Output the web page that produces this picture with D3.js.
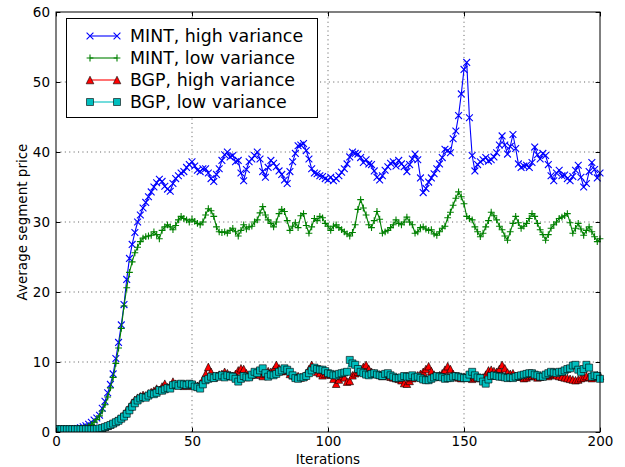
<!DOCTYPE html>
<html><head><meta charset="utf-8">
<script src="https://cdn.jsdelivr.net/npm/d3@7"></script>
<style>body{margin:0;background:#fff;} svg text{font-family:"DejaVu Sans",sans-serif;}</style>
</head><body>
<svg id="chart" width="625" height="467"></svg>
<script>
const seriesNames = ["MINT, high variance","MINT, low variance","BGP, high variance","BGP, low variance"];
const xTicks = [0,50,100,150,200];
const yTicks = [0,10,20,30,40,50,60];

const mintHigh = [
0.2,0.2,0.2,0.25,0.3,0.3,0.35,0.4,0.5,0.6,
0.75,0.9,1.1,1.4,1.7,2.0,2.4,3.4,4.4,5.6,
6.8,8.3,10.5,12.8,15.3,18.2,21.8,24.8,26.8,28.5,
30.0,31.0,32.0,32.8,33.6,34.3,35.0,35.6,36.1,35.8,
35.1,34.7,34.4,35.5,36.2,36.6,37.0,37.2,37.8,38.2,
38.6,38.0,37.4,37.2,37.6,37.6,37.0,36.2,35.8,36.8,
37.6,38.8,39.6,40.0,39.3,39.5,38.6,38.8,37.0,35.9,
37.5,38.6,39.0,39.5,40.0,39.0,37.2,36.4,37.8,38.8,
38.4,37.9,37.3,36.8,36.0,35.5,37.2,38.6,39.8,40.9,
41.0,41.2,40.2,39.0,37.6,37.0,36.9,36.6,36.5,36.2,
36.0,36.4,35.9,36.2,36.6,37.1,37.6,38.3,39.3,40.0,
39.8,39.7,39.2,38.5,38.9,38.3,38.2,37.3,36.4,36.0,
36.6,37.4,37.9,38.4,38.6,38.0,38.8,38.3,37.9,37.2,
38.2,39.0,39.7,38.9,36.3,34.2,34.8,35.7,36.3,36.9,
37.6,38.3,39.2,40.4,40.2,39.9,41.9,43.0,45.2,48.3,
51.8,52.8,44.9,39.5,37.3,38.2,38.6,38.9,39.2,38.7,
38.9,39.3,39.9,41.0,42.3,41.0,39.7,40.8,42.5,40.5,
38.3,37.8,38.0,38.1,37.8,38.5,40.7,39.6,39.0,39.8,
39.5,38.2,36.6,35.9,37.0,37.4,36.6,36.7,36.2,35.9,
36.5,37.4,38.1,36.4,35.0,35.5,37.2,38.5,37.5,36.3,
37.0];

const mintLow = [
0.2,0.2,0.2,0.2,0.25,0.3,0.3,0.35,0.4,0.45,
0.55,0.7,0.85,1.05,1.4,1.8,2.3,3.0,3.9,5.0,
6.3,7.8,9.8,12.0,14.8,18.0,20.6,22.8,24.3,25.6,
26.4,27.2,27.7,27.9,28.0,28.1,28.6,28.2,27.6,28.8,
29.3,29.6,29.3,28.9,29.5,30.3,30.8,30.5,30.3,30.0,
30.4,30.1,29.8,29.6,30.0,31.0,31.9,31.6,30.8,29.3,
28.6,28.5,28.6,28.4,28.8,29.1,28.6,28.0,28.8,29.6,
29.0,29.3,29.4,30.0,30.3,31.3,32.2,31.0,30.3,29.8,
29.3,30.0,31.2,31.8,31.5,30.2,28.8,29.4,29.9,29.2,
30.9,31.2,29.5,28.4,29.3,30.5,30.2,30.8,30.6,29.8,
29.4,28.8,29.4,29.6,29.2,28.9,28.6,28.3,28.0,28.5,
29.6,31.8,33.2,32.0,31.0,29.6,29.2,30.2,31.5,30.4,
28.4,28.6,28.8,29.2,29.6,30.3,29.8,29.6,30.0,30.7,
30.0,29.6,28.4,28.6,29.2,29.3,29.0,28.8,28.9,28.3,
28.1,28.6,29.1,29.4,30.6,31.4,32.4,33.4,34.3,33.6,
32.6,30.8,30.5,30.3,29.3,28.6,27.9,28.4,29.3,30.2,
31.4,30.9,30.3,29.4,28.9,28.0,27.4,28.6,29.8,30.8,
29.9,29.1,29.4,29.8,30.5,31.2,30.8,29.8,28.9,28.2,
27.4,28.2,29.1,29.6,30.0,30.5,30.7,30.9,31.2,29.9,
28.4,29.1,29.8,29.0,28.1,28.8,29.3,28.6,27.9,27.2,
27.6];

const bgpHigh = [
0.4,0.4,0.4,0.4,0.4,0.4,0.4,0.4,0.4,0.4,
0.4,0.4,0.4,0.4,0.4,0.45,0.5,0.6,0.75,0.9,
1.1,1.3,1.6,1.9,2.2,2.6,3.1,3.6,4.2,4.6,
4.9,5.1,5.3,5.2,5.5,5.7,5.9,6.2,6.0,6.5,
6.9,6.4,6.6,7.2,6.9,6.7,6.8,6.6,6.7,6.8,
6.6,6.7,6.6,6.9,7.5,8.3,9.3,8.6,7.8,8.0,
8.2,8.3,8.6,8.4,8.1,8.0,8.3,8.8,9.1,9.0,
8.4,8.0,8.2,8.3,8.5,8.2,8.0,8.3,8.7,8.6,
8.9,9.6,9.1,8.7,9.0,8.8,8.3,8.1,8.0,8.0,
7.8,7.9,8.4,9.0,9.6,9.1,8.6,8.4,8.1,8.3,
8.5,8.2,7.6,6.9,7.5,8.0,7.8,7.2,7.3,8.1,
8.4,8.6,8.9,9.3,9.6,9.0,8.6,8.4,8.3,8.2,
8.0,8.1,8.2,7.9,7.8,7.7,7.6,7.4,7.0,6.9,
7.3,7.7,7.9,8.1,8.3,8.6,9.0,9.4,8.7,8.2,
7.9,8.1,8.4,8.9,9.4,9.0,8.3,8.0,7.8,7.7,
7.9,8.0,7.8,7.6,7.8,7.9,7.7,7.8,8.2,8.8,
8.9,8.7,8.6,9.0,9.6,9.1,8.5,8.3,8.4,8.0,
7.9,8.0,7.7,7.8,8.0,8.1,8.0,7.8,7.9,8.0,
8.1,8.0,8.2,8.3,8.1,8.0,7.9,7.8,7.7,7.6,
7.5,7.4,7.5,7.7,7.8,8.0,7.9,7.7,7.9,8.1,
8.0];

const bgpLow = [
0.4,0.4,0.4,0.4,0.4,0.4,0.4,0.4,0.4,0.4,
0.4,0.4,0.4,0.4,0.4,0.45,0.5,0.55,0.7,0.85,
1.0,1.2,1.4,1.6,1.9,2.2,2.6,3.1,3.6,4.1,
4.5,4.8,5.0,4.9,5.2,5.5,5.4,5.6,6.0,5.9,
6.1,6.3,6.2,6.7,6.8,6.6,6.9,6.8,6.7,6.9,
6.8,6.5,6.4,6.2,6.8,7.4,7.6,7.9,7.7,8.0,
7.9,8.1,7.8,8.1,8.0,7.9,7.6,7.2,7.6,8.0,
7.8,7.8,8.2,8.6,8.4,8.8,9.1,8.4,7.9,8.2,
8.1,8.3,8.6,8.8,9.1,8.9,8.6,8.1,7.7,7.6,
7.8,7.8,8.0,8.4,8.8,9.2,9.0,8.9,8.9,8.7,
8.4,8.3,8.1,8.1,8.3,8.4,8.5,8.6,10.3,9.8,
9.6,9.0,8.6,8.4,8.2,8.1,8.3,8.4,8.2,8.1,
8.0,8.3,8.4,8.1,7.9,7.7,7.7,7.8,8.0,7.9,
7.9,8.1,7.8,7.9,7.7,7.5,7.4,7.4,7.6,7.8,
8.0,7.9,7.8,7.6,7.7,7.7,7.9,8.0,7.9,7.8,
7.7,7.7,8.2,8.6,8.1,7.8,7.7,7.2,6.9,7.5,
8.0,8.1,8.0,7.9,7.9,7.8,7.7,7.8,7.7,7.9,
8.0,8.1,8.2,8.3,8.4,8.4,8.2,8.1,7.9,7.9,
8.2,8.4,8.6,8.5,8.4,8.6,8.6,8.8,9.0,9.1,
9.5,9.6,8.9,8.6,9.0,9.6,9.2,7.9,8.1,8.0,
7.6];

const iterations = mintHigh.map((d, i) => i);

const svg = d3.select("#chart");
const L = 56, R = 600, T = 12, B = 432;
const x = d3.scaleLinear().domain([0, 200]).range([L, R]);
const y = d3.scaleLinear().domain([0, 60]).range([B, T]);

svg.append("rect").attr("width", 625).attr("height", 467).attr("fill", "#fff");

// grid
const grid = svg.append("g").attr("stroke", "#000").attr("stroke-width", 0.6).attr("stroke-dasharray", "1.1,3.3").attr("fill", "none");
xTicks.slice(1, -1).forEach(t => grid.append("line").attr("x1", x(t)).attr("x2", x(t)).attr("y1", B).attr("y2", T));
yTicks.slice(1, -1).forEach(t => grid.append("line").attr("x1", L).attr("x2", R).attr("y1", y(t)).attr("y2", y(t)));

const defs = svg.append("defs");
defs.append("clipPath").attr("id", "clip").append("rect").attr("x", L).attr("y", T - 6).attr("width", R - L + 6).attr("height", B - T + 6);

const styles = [
  {data: mintHigh, color: "#0000ff", marker: "x"},
  {data: mintLow, color: "#008000", marker: "+"},
  {data: bgpHigh, color: "#ff0000", marker: "^"},
  {data: bgpLow, color: "#00bfbf", marker: "s"}
];

function markerPath(type) {
  const r = type === "^" ? 3.8 : (type === "s" ? 3.5 : 3.4);
  if (type === "x") return `M${-r},${-r}L${r},${r}M${-r},${r}L${r},${-r}`;
  if (type === "+") return `M${-r},0L${r},0M0,${-r}L0,${r}`;
  if (type === "^") return `M0,${-r}L${r},${r}L${-r},${r}Z`;
  return `M${-r},${-r}L${r},${-r}L${r},${r}L${-r},${r}Z`;
}

function drawMarker(g, type, color) {
  const p = g.append("path").attr("d", markerPath(type));
  if (type === "x" || type === "+") p.attr("fill", "none").attr("stroke", color).attr("stroke-width", 1.1);
  else p.attr("fill", color).attr("stroke", "#000").attr("stroke-width", 0.6);
}

const plot = svg.append("g").attr("clip-path", "url(#clip)");
const line = d3.line().x((d, i) => x(iterations[i])).y(d => y(d));
styles.forEach(s => {
  const g = plot.append("g");
  g.append("path").datum(s.data).attr("d", line).attr("fill", "none").attr("stroke", s.color).attr("stroke-width", 1.1);
  g.selectAll("g.m").data(s.data).enter().append("g").attr("class", "m")
    .attr("transform", (d, i) => `translate(${x(iterations[i])},${y(d)})`)
    .each(function() { drawMarker(d3.select(this), s.marker, s.color); });
});

// axes
const fs = 13.5;
const axB = svg.append("g").attr("transform", `translate(0,${B})`).call(d3.axisBottom(x).tickValues(xTicks).tickSize(-4.4).tickPadding(4).tickFormat(d3.format("d")));
const axT = svg.append("g").attr("transform", `translate(0,${T})`).call(d3.axisTop(x).tickValues(xTicks).tickSize(-4.4).tickFormat(""));
const axL = svg.append("g").attr("transform", `translate(${L},0)`).call(d3.axisLeft(y).tickValues(yTicks).tickSize(-4.4).tickPadding(6).tickFormat(d3.format("d")));
const axRt = svg.append("g").attr("transform", `translate(${R},0)`).call(d3.axisRight(y).tickValues(yTicks).tickSize(-4.4).tickFormat(""));
[axB, axT, axL, axRt].forEach(a => {
  a.select(".domain").remove();
  a.selectAll("line").attr("stroke", "#000").attr("stroke-width", 1);
  a.selectAll("text").attr("font-size", fs).attr("font-family", "DejaVu Sans").attr("fill", "#000");
});
svg.append("rect").attr("x", L).attr("y", T).attr("width", R - L).attr("height", B - T).attr("fill", "none").attr("stroke", "#000").attr("stroke-width", 1);

svg.append("text").attr("x", (L + R) / 2).attr("y", 464).attr("text-anchor", "middle").attr("font-size", fs).text("Iterations");
svg.append("text").attr("transform", `translate(27,${(T + B) / 2}) rotate(-90)`).attr("text-anchor", "middle").attr("font-size", fs).text("Average segment price");

// legend
const lg = svg.append("g");
lg.append("rect").attr("x", 66.5).attr("y", 18.5).attr("width", 251).attr("height", 99).attr("fill", "#fff").attr("stroke", "#000").attr("stroke-width", 1);
const rowsY = [36, 58, 80, 102];
styles.forEach((s, k) => {
  const ry = rowsY[k];
  lg.append("line").attr("x1", 90).attr("x2", 117).attr("y1", ry).attr("y2", ry).attr("stroke", s.color).attr("stroke-width", 1.1);
  [90, 117].forEach(px => drawMarker(lg.append("g").attr("transform", `translate(${px},${ry})`), s.marker, s.color));
  lg.append("text").attr("x", 130).attr("y", ry + 6).attr("font-size", 17.4).text(seriesNames[k]);
});
</script>
</body></html>
